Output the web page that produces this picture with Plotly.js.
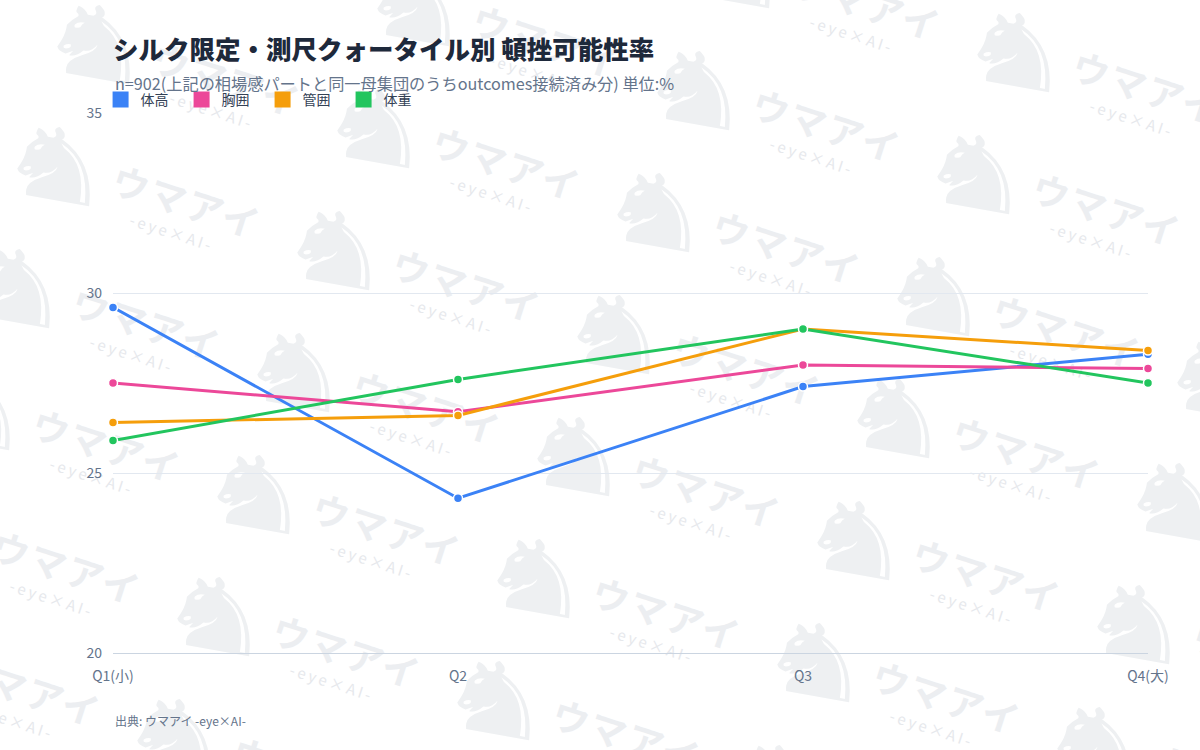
<!DOCTYPE html>
<html>
<head>
<meta charset="utf-8">
<script src="https://cdn.plot.ly/plotly-3.0.1.min.js"></script>
<style>
    html, body { margin: 0; padding: 0; background: #ffffff; }
    #wrap { position: relative; width: 1200px; height: 750px; overflow: hidden; background: #ffffff; }
    #wm { position: absolute; left: 0; top: 0; width: 1200px; height: 750px; overflow: hidden; }
    #wm span { position: absolute; white-space: nowrap; user-select: none; }
    #grafico { position: absolute; left: 0; top: 0; width: 1200px; height: 750px; }
</style>
</head>
<body>
<div id="wrap">
    <div id="wm"></div>
    <div id="grafico"></div>
</div>
<script>
"use strict";

// Datos (頓挫可能性率, %)
const categorias = ["Q1(小)", "Q2", "Q3", "Q4(大)"];
const nombresSeries = ["体高", "胸囲", "管囲", "体重"];
const valoresTaikou = [29.6, 24.3, 27.4, 28.3];
const valoresKyoui = [27.5, 26.7, 28.0, 27.9];
const valoresKanni = [26.4, 26.6, 29.0, 28.4];
const valoresTaiju = [25.9, 27.6, 29.0, 27.5];
const colores = ["#3b82f6", "#ec4899", "#f59e0b", "#22c55e"];

const tituloTexto = "シルク限定・測尺クォータイル別 頓挫可能性率";
const subtituloTexto = "n=902(上記の相場感パートと同一母集団のうちoutcomes接続済み分) 単位:%";
const fuenteTexto = "出典: ウマアイ -eye×AI-";
const marcaTexto = "ウマアイ";
const marcaSub = "-eye×AI-";

const fuente = '"Noto Sans CJK JP", "Noto Sans", sans-serif';

// Marca de agua de fondo (decorativa, detrás del gráfico)
function agregarSpan(texto, x, y, estilo) {
    const s = document.createElement("span");
    s.textContent = texto;
    s.style.left = x + "px";
    s.style.top = y + "px";
    Object.assign(s.style, estilo);
    document.getElementById("wm").appendChild(s);
}

const origen = [337, 250];
const paso1 = [320, -38];
const paso2 = [-40, 122];
for (let i = -4; i <= 5; i++) {
    for (let j = -4; j <= 8; j++) {
        const hx = origen[0] + i * paso1[0] + j * paso2[0];
        const hy = origen[1] + i * paso1[1] + j * paso2[1];
        if (hx < -120 || hx > 1250 || hy < -60 || hy > 800) continue;
        agregarSpan("\u265E", hx, hy, {
            fontFamily: '"DejaVu Sans"', fontSize: "100px", color: "#eef0f2",
            transform: "translate(-50%,-50%) rotate(10deg) scaleX(1.35)", lineHeight: "1"
        });
        agregarSpan(marcaTexto, hx + 130, hy + 35, {
            fontFamily: fuente, fontSize: "37px", fontWeight: "700", letterSpacing: "2px", color: "#eceef1",
            transform: "translate(-50%,-50%) rotate(18deg)", lineHeight: "1"
        });
        agregarSpan(marcaSub, hx + 115, hy + 66, {
            fontFamily: fuente, fontSize: "15px", letterSpacing: "3px", color: "#e6e8ec",
            transform: "translate(-50%,-50%) rotate(18deg)", lineHeight: "1"
        });
    }
}

const valoresPorSerie = [valoresTaikou, valoresKyoui, valoresKanni, valoresTaiju];

// Trazas de líneas
const trazas = valoresPorSerie.map((valores, k) => ({
    x: categorias,
    y: valores,
    type: "scatter",
    mode: "lines+markers",
    name: nombresSeries[k],
    line: { color: colores[k], width: 3 },
    marker: { color: colores[k], size: 9, line: { color: "#ffffff", width: 1.5 } },
    cliponaxis: false,
    showlegend: false,
    legendgroup: nombresSeries[k]
}));

// Entradas de leyenda con cuadrados
const leyenda = nombresSeries.map((nombre, k) => ({
    x: [null],
    y: [null],
    type: "scatter",
    mode: "markers",
    name: nombre,
    marker: { color: colores[k], size: 16, symbol: "square" },
    legendgroup: nombre,
    showlegend: true
}));

const layout = {
    width: 1200,
    height: 750,
    margin: { l: 113, r: 52, t: 113, b: 97 },
    paper_bgcolor: "rgba(0,0,0,0)",
    plot_bgcolor: "rgba(0,0,0,0)",
    font: { family: fuente, color: "#64748b", size: 14 },
    title: {
        text: tituloTexto,
        font: { family: fuente, size: 25.5, color: "#1e293b", weight: 900 },
        x: 113 / 1200,
        xanchor: "left",
        xref: "container",
        y: 1 - 50 / 750,
        yanchor: "middle",
        yref: "container"
    },
    showlegend: true,
    legend: {
        orientation: "h",
        x: -0.012,
        xanchor: "left",
        y: 1 + 13 / 540,
        yanchor: "middle",
        entrywidth: 36,
        entrywidthmode: "pixels",
        font: { family: fuente, size: 14, color: "#334155" },
        bgcolor: "rgba(0,0,0,0)"
    },
    xaxis: {
        type: "category",
        range: [0, 3],
        showgrid: false,
        zeroline: false,
        showline: true,
        linecolor: "#cbd5e1",
        linewidth: 1,
        ticks: "",
        ticklabelstandoff: 10,
        tickfont: { family: fuente, size: 14, color: "#64748b" }
    },
    yaxis: {
        range: [20, 35],
        dtick: 5,
        tick0: 20,
        showgrid: true,
        gridcolor: "#e2e8f0",
        gridwidth: 1,
        zeroline: false,
        ticks: "",
        ticklabelstandoff: 10,
        tickfont: { family: fuente, size: 14, color: "#64748b" }
    },
    annotations: [
        {
            text: subtituloTexto,
            xref: "paper", yref: "paper",
            x: 0, xanchor: "left",
            y: (653 - 83) / 540, yanchor: "middle",
            showarrow: false,
            font: { family: fuente, size: 16.2, color: "#64748b" }
        },
        {
            text: fuenteTexto,
            xref: "paper", yref: "paper",
            x: 0, xanchor: "left",
            y: (653 - 720) / 540, yanchor: "middle",
            showarrow: false,
            font: { family: fuente, size: 12, color: "#64748b" }
        }
    ]
};

const config = { displayModeBar: false, staticPlot: true };

Plotly.newPlot("grafico", trazas.concat(leyenda), layout, config);
</script>
</body>
</html>
